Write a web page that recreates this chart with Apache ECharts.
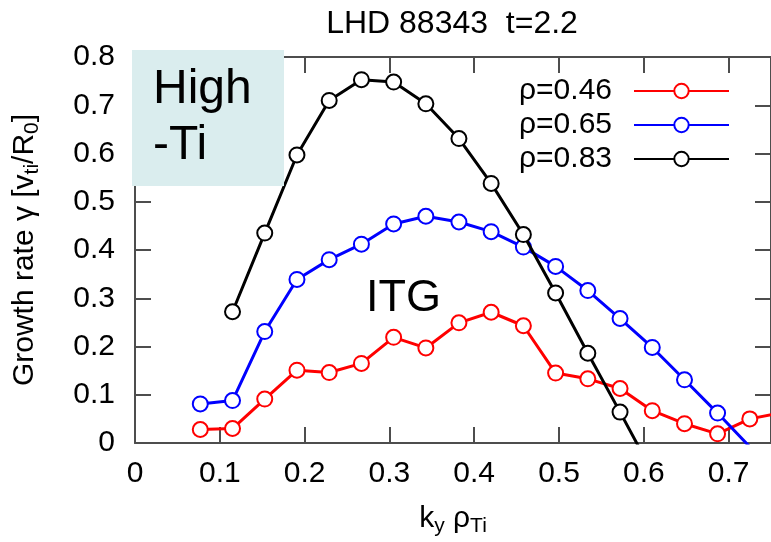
<!DOCTYPE html>
<html>
<head>
<meta charset="utf-8">
<script src="https://cdn.jsdelivr.net/npm/echarts@6/dist/echarts.min.js"></script>
<style>html,body{margin:0;padding:0;background:#fff}#c{width:771px;height:542px}</style>
</head>
<body>
<div id="c"></div>
<script>
// ---- data ----
const titleText = 'LHD 88343  t=2.2';
const seriesNames = ['ρ=0.46', 'ρ=0.65', 'ρ=0.83'];
const kyValues = [0.077, 0.115, 0.153, 0.191, 0.229, 0.267, 0.305, 0.343, 0.382, 0.420, 0.458, 0.496, 0.534, 0.572, 0.610, 0.648, 0.687, 0.725, 0.763];
const gammaRho046 = [0.028, 0.030, 0.091, 0.151, 0.146, 0.165, 0.219, 0.197, 0.249, 0.271, 0.243, 0.145, 0.133, 0.113, 0.067, 0.040, 0.019, 0.050, 0.063];
const gammaRho065 = [0.081, 0.088, 0.231, 0.339, 0.380, 0.412, 0.454, 0.470, 0.458, 0.438, 0.406, 0.366, 0.316, 0.258, 0.198, 0.131, 0.062, -0.008];
const kyRho083 = [0.115, 0.153, 0.191, 0.229, 0.267, 0.305, 0.343, 0.382, 0.420, 0.458, 0.496, 0.534, 0.572, 0.610];
const gammaRho083 = [0.272, 0.435, 0.597, 0.710, 0.753, 0.748, 0.703, 0.631, 0.538, 0.432, 0.311, 0.186, 0.064, -0.060];
const xTickMin = 0, xTickMax = 0.75, xTickStep = 0.1;
const yTickMin = 0, yTickMax = 0.8, yTickStep = 0.1;
const colors = ['#ff0000', '#0000ff', '#000000'];

const FONT = '"Liberation Sans", Arial, sans-serif';
const axisColor = '#4d4d4d';

const pairs = (xs, ys) => ys.map((v, i) => [xs[i], v]);
const seriesData = [
  pairs(kyValues, gammaRho046),
  pairs(kyValues, gammaRho065),
  pairs(kyRho083, gammaRho083)
];

const chart = echarts.init(document.getElementById('c'), null, {renderer: 'canvas'});

const axisLine = {show: true, onZero: false, lineStyle: {color: axisColor, width: 2}};
const axisTick = {show: true, inside: true, length: 16, lineStyle: {color: axisColor, width: 2}};
const nameRich = {
  m: {fontSize: 30, color: '#000', fontFamily: FONT, lineHeight: 36, verticalAlign: 'middle'},
  s: {fontSize: 21, color: '#000', fontFamily: FONT, lineHeight: 14, verticalAlign: 'bottom'}
};

chart.setOption({
  animation: false,
  backgroundColor: '#ffffff',
  textStyle: {fontFamily: FONT},
  grid: {left: 135, top: 57, right: -2, bottom: 96, containLabel: false},
  legend: {
    orient: 'vertical', right: 36, top: 71, align: 'right',
    itemWidth: 95, itemHeight: 18, itemGap: 4,
    data: seriesNames,
    textStyle: {fontSize: 30, color: '#000', fontFamily: FONT, padding: [0, 17, 0, 0]}
  },
  xAxis: [{
    type: 'value', position: 'bottom', min: xTickMin, max: xTickMax, interval: xTickStep,
    axisLine, axisTick, splitLine: {show: false},
    axisLabel: {fontSize: 30, color: '#000', margin: 16, fontFamily: FONT, showMaxLabel: false},
    name: '{m|k}{s|y}{m| ρ}{s|Ti}', nameLocation: 'middle', nameGap: 58,
    nameTextStyle: {rich: nameRich}
  }, {
    type: 'value', position: 'top', min: xTickMin, max: xTickMax, interval: xTickStep,
    axisLine, axisTick, splitLine: {show: false}, axisLabel: {show: false}
  }],
  yAxis: [{
    type: 'value', position: 'left', min: yTickMin, max: yTickMax, interval: yTickStep,
    axisLine, axisTick, splitLine: {show: false},
    axisLabel: {fontSize: 30, color: '#000', margin: 20, fontFamily: FONT},
    name: '{m|Growth rate γ [v}{s|ti}{m|/R}{s|0}{m|]}', nameLocation: 'middle', nameGap: 92,
    nameTextStyle: {rich: nameRich}
  }, {
    type: 'value', position: 'right', min: yTickMin, max: yTickMax, interval: yTickStep,
    axisLine, axisTick, splitLine: {show: false}, axisLabel: {show: false}
  }],
  series: seriesNames.map((name, i) => ({
    name, type: 'line', xAxisIndex: 0, yAxisIndex: 0,
    data: seriesData[i],
    clip: true,
    color: colors[i],
    symbol: 'emptyCircle', symbolSize: 15,
    lineStyle: {color: colors[i], width: 3},
    itemStyle: {color: colors[i], borderColor: colors[i], borderWidth: 2.5},
    z: 2 + i
  })),
  graphic: [
    {type: 'text', x: 452, y: 24, z: 100, style: {text: titleText, font: '32px ' + FONT, fill: '#000', textAlign: 'center', textVerticalAlign: 'middle'}},
    {type: 'rect', shape: {x: 132, y: 50, width: 152, height: 136}, z: 100, style: {fill: '#daedee'}},
    {type: 'text', x: 153, y: 90, z: 101, style: {text: 'High', font: '48px ' + FONT, fill: '#000', textAlign: 'left', textVerticalAlign: 'middle'}},
    {type: 'text', x: 153, y: 146, z: 101, style: {text: '-Ti', font: '48px ' + FONT, fill: '#000', textAlign: 'left', textVerticalAlign: 'middle'}},
    {type: 'text', x: 366, y: 299, z: 101, style: {text: 'ITG', font: '45px ' + FONT, fill: '#000', textAlign: 'left', textVerticalAlign: 'middle'}}
  ]
});
</script>
</body>
</html>
